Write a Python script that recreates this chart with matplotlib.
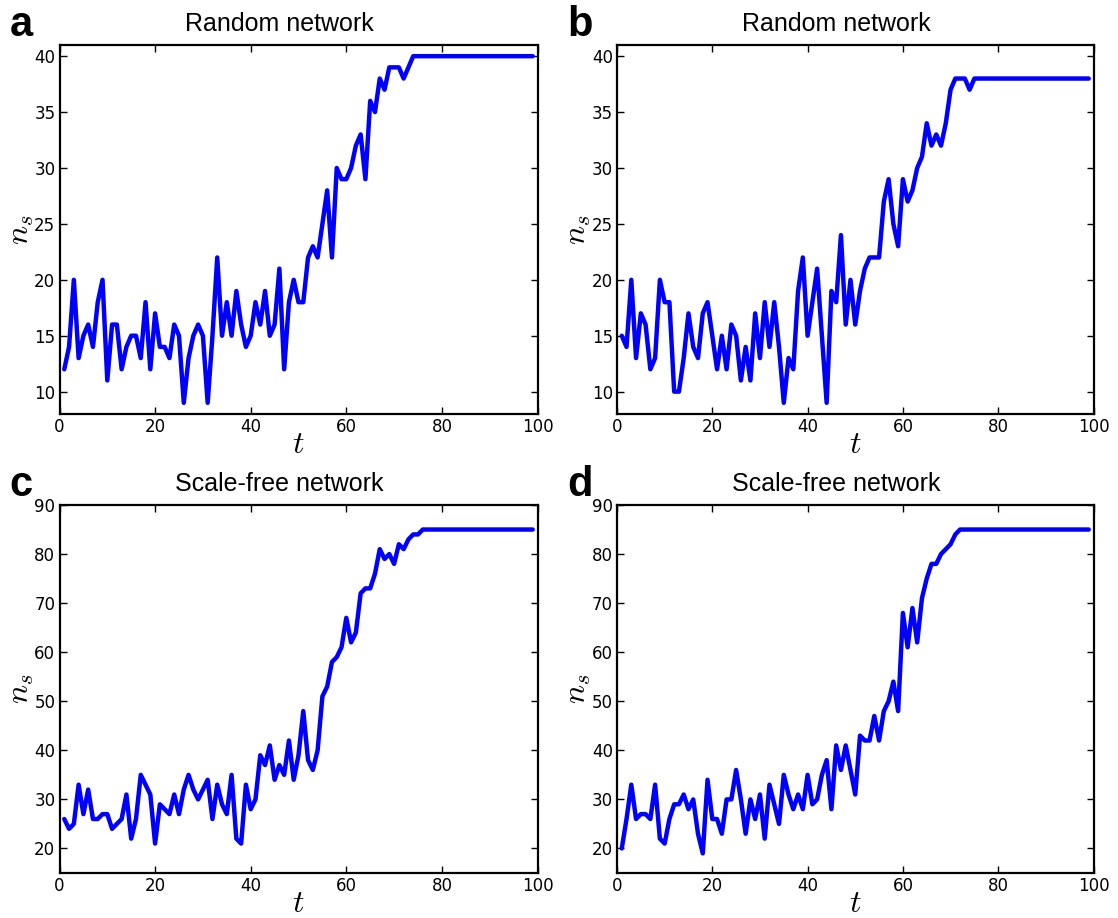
import numpy as np
import matplotlib
matplotlib.use("Agg")
import matplotlib.pyplot as plt

plt.rcParams['mathtext.fontset'] = 'cm'

t = np.arange(1, 100)

# panel a: random network
ns_a = [12, 14, 20, 13, 15, 16, 14, 18, 20, 11,
        16, 16, 12, 14, 15, 15, 13, 18, 12, 17,
        14, 14, 13, 16, 15, 9, 13, 15, 16, 15,
        9, 15, 22, 15, 18, 15, 19, 16, 14, 15,
        18, 16, 19, 15, 16, 21, 12, 18, 20, 18,
        18, 22, 23, 22, 25, 28, 22, 30, 29, 29,
        30, 32, 33, 29, 36, 35, 38, 37, 39, 39,
        39, 38, 39, 40, 40, 40, 40, 40, 40, 40,
        40, 40, 40, 40, 40, 40, 40, 40, 40, 40,
        40, 40, 40, 40, 40, 40, 40, 40, 40]

# panel b: random network
ns_b = [15, 14, 20, 13, 17, 16, 12, 13, 20, 18,
        18, 10, 10, 13, 17, 14, 13, 17, 18, 15,
        12, 15, 12, 16, 15, 11, 14, 11, 17, 13,
        18, 14, 18, 14, 9, 13, 12, 19, 22, 15,
        18, 21, 15, 9, 19, 18, 24, 16, 20, 16,
        19, 21, 22, 22, 22, 27, 29, 25, 23, 29,
        27, 28, 30, 31, 34, 32, 33, 32, 34, 37,
        38, 38, 38, 37, 38, 38, 38, 38, 38, 38,
        38, 38, 38, 38, 38, 38, 38, 38, 38, 38,
        38, 38, 38, 38, 38, 38, 38, 38, 38]

# panel c: scale-free network
ns_c = [26, 24, 25, 33, 27, 32, 26, 26, 27, 27,
        24, 25, 26, 31, 22, 26, 35, 33, 31, 21,
        29, 28, 27, 31, 27, 32, 35, 32, 30, 32,
        34, 26, 33, 29, 27, 35, 22, 21, 33, 28,
        30, 39, 37, 41, 34, 37, 35, 42, 34, 39,
        48, 38, 36, 40, 51, 53, 58, 59, 61, 67,
        62, 64, 72, 73, 73, 76, 81, 79, 80, 78,
        82, 81, 83, 84, 84, 85, 85, 85, 85, 85,
        85, 85, 85, 85, 85, 85, 85, 85, 85, 85,
        85, 85, 85, 85, 85, 85, 85, 85, 85]

# panel d: scale-free network
ns_d = [20, 26, 33, 26, 27, 27, 26, 33, 22, 21,
        26, 29, 29, 31, 28, 30, 23, 19, 34, 26,
        26, 23, 30, 30, 36, 30, 23, 30, 26, 31,
        22, 33, 29, 25, 35, 31, 28, 31, 28, 35,
        29, 30, 35, 38, 28, 41, 36, 41, 36, 31,
        43, 42, 42, 47, 42, 48, 50, 54, 48, 68,
        61, 69, 62, 71, 75, 78, 78, 80, 81, 82,
        84, 85, 85, 85, 85, 85, 85, 85, 85, 85,
        85, 85, 85, 85, 85, 85, 85, 85, 85, 85,
        85, 85, 85, 85, 85, 85, 85, 85, 85]

panels = [
    ("a", "Random network", ns_a, (8, 41), np.arange(10, 41, 5)),
    ("b", "Random network", ns_b, (8, 41), np.arange(10, 41, 5)),
    ("c", "Scale-free network", ns_c, (15, 90), np.arange(20, 91, 10)),
    ("d", "Scale-free network", ns_d, (15, 90), np.arange(20, 91, 10)),
]

W, H = 1118, 918
fig = plt.figure(figsize=(W / 100, H / 100), dpi=100)

# axes boxes in pixels: left, top, right, bottom
boxes = [(59.5, 45, 537.5, 414), (617, 45, 1093.5, 414),
         (59.5, 505, 537.5, 873), (617, 505, 1093.5, 873)]

for (letter, title, ns, ylim, yticks), (l, tp, r, b) in zip(panels, boxes):
    ax = fig.add_axes([l / W, 1 - b / H, (r - l) / W, (b - tp) / H])
    ax.plot(t, ns, color="#0000ff", lw=3.2, solid_joinstyle="round",
            solid_capstyle="round")
    ax.set_xlim(0, 100)
    ax.set_ylim(*ylim)
    ax.set_xticks(np.arange(0, 101, 20))
    ax.set_yticks(yticks)
    ax.tick_params(direction="in", top=True, right=True, length=5,
                   width=1, labelsize=12, pad=3)
    for s in ax.spines.values():
        s.set_linewidth(1.6)
    # titles sit a little left of the axes centre in the original
    ax.set_title(title, fontsize=18, family="Liberation Sans", pad=10,
                 x=0.5 - 19 / (r - l))
    ax.set_xlabel("$t$", fontsize=23, labelpad=-5)
    ax.set_ylabel("$n_s$", fontsize=23, labelpad=-1)
    fig.text((l - 50) / W, 1 - (tp - 9) / H, letter, fontsize=30,
             fontweight="bold", family="Liberation Sans", va="baseline")

fig.savefig("out.png", dpi=100)
